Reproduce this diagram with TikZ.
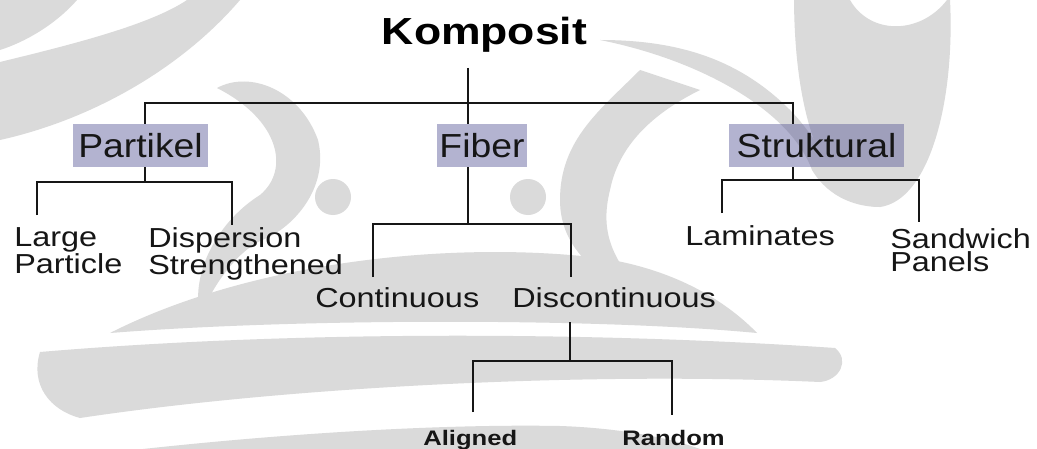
\documentclass[tikz,border=0pt]{standalone}
\usepackage{fontspec}
\setmainfont{Liberation Sans}
\newfontfamily\labelfont[FakeStretch=1.18]{Liberation Sans}
\newfontfamily\boxfont[FakeStretch=1.12]{Liberation Sans}
\newfontfamily\headfont[FakeStretch=1.18]{Liberation Sans}
\newfontfamily\leaffont[FakeStretch=1.22]{Liberation Sans}
\definecolor{wmgray}{RGB}{218,218,218}
\definecolor{boxtint}{RGB}{88,88,151}
\definecolor{ink}{RGB}{22,22,22}
\tikzset{
  wm/.style={fill=wmgray, draw=none},
  catbox/.style={fill=boxtint, fill opacity=0.45, text opacity=1, text=ink,
    inner sep=0pt, font=\boxfont\fontsize{25}{28}\selectfont},
  leaf/.style={inner sep=0pt, text=ink, align=left,
    font=\labelfont\fontsize{20.6}{17.25}\selectfont},
  smallleaf/.style={inner sep=0pt, text=ink,
    font=\leaffont\bfseries\fontsize{15.75}{18}\selectfont},
  tree/.style={draw=ink, line width=2pt},
}
\begin{document}
\begin{tikzpicture}[x=0.75pt, y=-0.75pt]
\useasboundingbox (0,0) rectangle (1037,449);
\fill[white] (0,0) rectangle (1037,449);

% ---- faint emblem in the background ----
\fill[wm] (0,0) -- (77,0) .. controls (55,25) and (25,42) .. (0,50) -- cycle;
\fill[wm] (0,62) .. controls (70,45) and (150,25) .. (187,0) -- (240,0)
  .. controls (180,70) and (90,120) .. (0,140) -- cycle;
\fill[wm] (217,88) .. controls (250,70) and (300,90) .. (318,140)
  .. controls (330,190) and (290,230) .. (262,240)
  .. controls (240,250) and (215,280) .. (200,317)
  .. controls (190,270) and (220,220) .. (260,195)
  .. controls (290,170) and (280,120) .. (217,88) -- cycle;
\fill[wm] (333,197) circle[radius=18];
\fill[wm] (528,197) circle[radius=18];
\fill[wm] (640,70) .. controls (600,110) and (560,140) .. (560,200)
  .. controls (560,250) and (600,280) .. (650,300)
  .. controls (610,260) and (600,230) .. (610,190)
  .. controls (620,140) and (660,110) .. (700,90) -- cycle;
\fill[wm] (110,333) .. controls (250,262) and (450,240) .. (600,258)
  .. controls (680,270) and (730,305) .. (757,333)
  .. controls (600,318) and (300,318) .. (110,333) -- cycle;
\fill[wm] (40,352) .. controls (300,330) and (600,332) .. (835,348)
  .. controls (850,360) and (840,380) .. (820,382)
  .. controls (600,372) and (300,385) .. (80,418)
  .. controls (50,410) and (30,385) .. (40,352) -- cycle;
\fill[wm] (143,449) .. controls (300,432) and (450,424) .. (560,426)
  .. controls (620,428) and (670,438) .. (700,449) -- cycle;
\fill[wm, even odd rule] (794,0) .. controls (795,150) and (840,207) .. (880,207)
  .. controls (930,200) and (955,100) .. (950,0) -- cycle
  (850,0) .. controls (870,35) and (920,35) .. (947,0) -- cycle;
\fill[wm] (600,40) .. controls (700,60) and (790,110) .. (812,170)
  .. controls (830,200) and (860,207) .. (880,207)
  .. controls (840,190) and (820,140) .. (790,110)
  .. controls (740,60) and (680,40) .. (600,40) -- cycle;

% ---- hierarchy nodes ----
\node[anchor=base, text=black, font=\headfont\bfseries\fontsize{28.3}{30}\selectfont]
  (komposit) at (484.5,45) {Komposit};

\node[catbox, minimum width=101.25pt, minimum height=32.25pt] (partikel) at (140.5,145.5) {Partikel};
\node[catbox, minimum width=67.5pt, minimum height=32.25pt] (fiber) at (482,145.5) {Fiber};
\node[catbox, minimum width=131.25pt, minimum height=32.25pt] (struktural) at (816.5,145.5) {Struktural};

\node[leaf, anchor=north west] (large) at (14,227) {Large\\Particle};
\node[leaf, anchor=north west] (dispersion) at (148,227) {Dispersion\\Strengthened};
\node[leaf, anchor=base west] (continuous) at (315,307) {Continuous};
\node[leaf, anchor=base west] (discontinuous) at (512,307) {Discontinuous};
\node[leaf, anchor=base west] (laminates) at (685,245) {Laminates};
\node[leaf, anchor=north west] (sandwich) at (890,228) {Sandwich\\Panels};
\node[smallleaf, anchor=base west] (aligned) at (423,445) {Aligned};
\node[smallleaf, anchor=base west] (random) at (622,445) {Random};

% ---- connector end points ----
\coordinate (kFoot) at (468,68);
\coordinate (kBar) at (468,103);
\coordinate (pTop) at (145,124);
\coordinate (fTop) at (468,124);
\coordinate (sTop) at (793,124);
\coordinate (pFoot) at (145,167);
\coordinate (pBar) at (145,182);
\coordinate (largeTop) at (37,215);
\coordinate (dispTop) at (232,225);
\coordinate (fFoot) at (468,167);
\coordinate (fBar) at (468,224);
\coordinate (contTop) at (373,277);
\coordinate (discTop) at (571,277);
\coordinate (sFoot) at (793,167);
\coordinate (sBar) at (793,180);
\coordinate (lamTop) at (722,213);
\coordinate (sandTop) at (919,222);
\coordinate (dFoot) at (570,322);
\coordinate (dBar) at (570,361);
\coordinate (alTop) at (473,412);
\coordinate (raTop) at (672,415);

% ---- connectors ----
\draw[tree] (kFoot) -- (fTop);
\draw[tree] (pTop) |- (kBar) -| (sTop);
\draw[tree] (fFoot) -- (fBar);
\draw[tree] (contTop) |- (fBar) -| (discTop);
\draw[tree] (pFoot) -- (pBar);
\draw[tree] (largeTop) |- (pBar) -| (dispTop);
\draw[tree] (sFoot) -- (sBar);
\draw[tree] (lamTop) |- (sBar) -| (sandTop);
\draw[tree] (dFoot) -- (dBar);
\draw[tree] (alTop) |- (dBar) -| (raTop);
\end{tikzpicture}
\end{document}
